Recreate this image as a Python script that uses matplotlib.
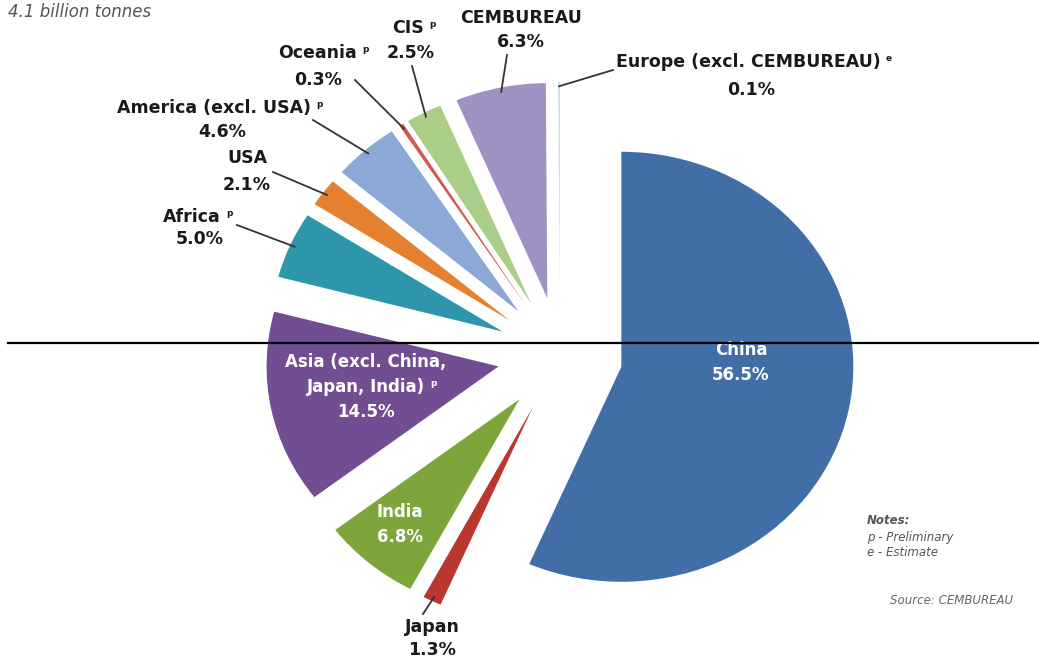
import numpy as np
import matplotlib.pyplot as plt
from matplotlib.lines import Line2D

# ----------------------------
# Data (counter-clockwise from 12 o'clock)
# ----------------------------
regions = ["Europe (excl. CEMBUREAU)", "CEMBUREAU", "CIS", "Oceania",
           "America (excl. USA)", "USA", "Africa",
           "Asia (excl. China,\nJapan, India)", "India", "Japan", "China"]
shares = [0.1, 6.3, 2.5, 0.3, 4.6, 2.1, 5.0, 14.5, 6.8, 1.3, 56.5]
marks = ["e", "", "p", "p", "p", "", "p", "p", "", "", ""]
colors = ["#bed7e6", "#a091c3", "#aacd87", "#d25a50", "#8ca8d7", "#e48030",
          "#2e96aa", "#704e91", "#7da53c", "#b9372f", "#416ea7"]

title = "4.1 billion tonnes"
notes = ["Notes:", "p - Preliminary", "e - Estimate"]
source = "Source: CEMBUREAU"

# ----------------------------
# Layout (pixels of the 1039x664 image)
# ----------------------------
W, H = 1039, 664
CX, CY = 560, 355     # pie centre
SX, SY = 232, 215     # pixels per unit radius (picture is a bit wider)
EXPLODE = 0.27

# outside labels: name position, percent position (px)
outside = {
    "Europe (excl. CEMBUREAU)": ((748, 62), (751, 90)),
    "CEMBUREAU": ((521, 18), (521, 42)),
    "CIS": ((408, 28), (411, 53)),
    "Oceania": ((318, 53), (318, 80)),
    "America (excl. USA)": ((214, 108), (222, 132)),
    "USA": ((247, 158), (247, 185)),
    "Africa": ((192, 217), (200, 239)),
    "Japan": ((432, 627), (432, 650)),
}
# where leader lines end (px)
leader_end = {
    "Europe (excl. CEMBUREAU)": (613, 70),
    "CEMBUREAU": (507, 55),
    "CIS": (412, 66),
    "Oceania": (355, 80),
    "America (excl. USA)": (313, 120),
    "USA": (273, 172),
    "Africa": (237, 225),
    "Japan": (423, 614),
}
# inside labels (px of first line centre)
inside = {
    "Asia (excl. China,\nJapan, India)": (366, 362),
    "India": (400, 512),
    "China": (741, 350),
}


def to_data(px, py):
    return (px - CX) / SX, (CY - py) / SY


plt.rcParams['font.family'] = ['DejaVu Sans']

fig = plt.figure(figsize=(W / 100, H / 100), dpi=100)
ax = fig.add_axes([0, 0, 1, 1])

ax.pie(shares, colors=colors, startangle=90, counterclock=True,
       explode=[EXPLODE] * len(shares),
       wedgeprops=dict(linewidth=0))

ax.set_aspect('auto')
ax.set_xlim(-CX / SX, (W - CX) / SX)
ax.set_ylim(-(H - CY) / SY, CY / SY)
ax.axis('off')

# mid angles of each wedge
cum = np.cumsum([0] + shares)
mid = 90 + (cum[:-1] + cum[1:]) / 2 / 100 * 360

supers = []   # (text artist, mark, colour)
for i, name in enumerate(regions):
    pct = f"{shares[i]:.1f}%"
    if name in outside:
        (nx, ny), (qx, qy) = outside[name]
        t = ax.text(*to_data(nx, ny), name, ha='center', va='center',
                    fontsize=12.5, fontweight='bold', color='#1a1a1a')
        ax.text(*to_data(qx, qy), pct, ha='center', va='center',
                fontsize=12.5, fontweight='bold', color='#1a1a1a')
        if marks[i]:
            supers.append((t, marks[i], '#1a1a1a'))
        a = np.deg2rad(mid[i])
        r0 = 1 + EXPLODE - 0.02
        ex, ey = to_data(*leader_end[name])
        ax.plot([r0 * np.cos(a), ex], [r0 * np.sin(a), ey],
                color='#333333', lw=1.3)
    else:
        tx, ty = inside[name]
        lines = name.split("\n") + [pct]
        for k, ln in enumerate(lines):
            t = ax.text(*to_data(tx, ty + k * 25), ln, ha='center',
                        va='center', fontsize=12, fontweight='bold',
                        color='white')
            if k == len(lines) - 2 and marks[i]:
                supers.append((t, marks[i], 'white'))

# small superscript markers (p / e) next to the names
fig.canvas.draw()
for t, m, c in supers:
    bb = t.get_window_extent()
    fig.text((bb.x1 + 5) / W, (bb.y1 - 1) / H, m, ha='left', va='top',
             fontsize=6.5, fontweight='bold', color=c)

# title, notes, source
fig.text(8 / W, 1 - 12 / H, title, ha='left', va='center', fontsize=12,
         style='italic', color='#555555')
for k, ln in enumerate(notes):
    fig.text(867 / W, 1 - (521 + k * 16) / H, ln, ha='left', va='center',
             fontsize=8.5, style='italic', color='#555555',
             fontweight='bold' if k == 0 else 'normal')
fig.text(1013 / W, 1 - 600 / H, source, ha='right', va='center',
         fontsize=8.5, style='italic', color='#666666')

# horizontal rule across the picture
fig.add_artist(Line2D([8 / W, 1], [1 - 343 / H, 1 - 343 / H],
                      color='black', lw=1.6, transform=fig.transFigure))

fig.savefig("out.png", dpi=100)
